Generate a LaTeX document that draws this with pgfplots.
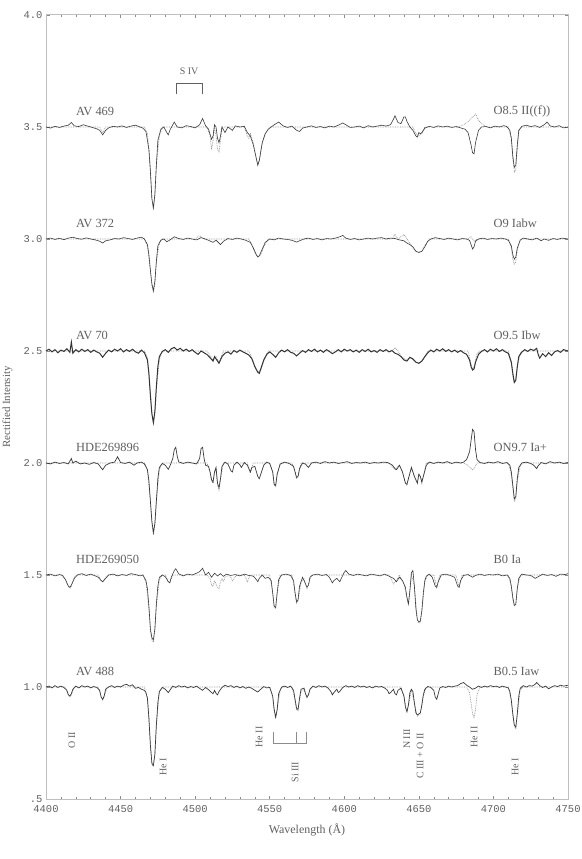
\documentclass[border=0pt]{standalone}
\usepackage{fontspec}
\setmainfont{Liberation Serif}
\newfontfamily\monofont{Liberation Mono}
\usepackage{pgfplots}
\usepackage{pgfplotstable}
\pgfplotsset{compat=1.18}
\definecolor{txt}{HTML}{606060}
\definecolor{obs}{HTML}{3A3A3A}
\definecolor{mod}{HTML}{8A8A8A}

% spectra, normalised; each one shifted by its offset when plotted
% AV 469 (O8.5 II((f)))
\pgfplotstableread[row sep=\\]{w f\\
4400 1.000\\ 4403 0.995\\ 4406 1.003\\ 4409 0.998\\ 4412 1.004\\ 4415 1.008\\ 4417 1.020\\ 4419 1.005\\ 4422 1.002\\ 4425 1.010\\
4428 1.004\\ 4431 0.998\\ 4434 0.992\\ 4436 0.985\\ 4438 0.965\\ 4440 0.985\\ 4442 0.996\\ 4445 1.003\\ 4448 1.000\\ 4451 1.005\\
4454 0.998\\ 4457 1.004\\ 4460 1.008\\ 4463 1.000\\ 4465 0.995\\ 4467 0.980\\ 4469 0.900\\ 4470 0.800\\ 4471 0.680\\ 4472 0.640\\
4473 0.700\\ 4474 0.830\\ 4475 0.940\\ 4477 0.990\\ 4479 1.000\\ 4481 0.975\\ 4482 0.965\\ 4483 0.985\\ 4485 1.010\\ 4486 1.022\\
4488 1.000\\ 4491 0.996\\ 4494 1.006\\ 4497 1.002\\ 4500 0.996\\ 4503 1.010\\ 4505 1.038\\ 4507 1.005\\ 4509 0.990\\ 4511 0.945\\
4512 0.960\\ 4513 1.010\\ 4514 1.000\\ 4515 0.950\\ 4516 0.930\\ 4517 0.960\\ 4518 1.000\\ 4520 0.975\\ 4522 1.000\\ 4525 0.985\\
4527 1.005\\ 4530 1.000\\ 4533 1.003\\ 4535 0.975\\ 4537 0.960\\ 4539 0.920\\ 4541 0.860\\ 4542 0.830\\ 4543 0.850\\ 4545 0.930\\
4547 0.970\\ 4549 0.990\\ 4551 1.000\\ 4553 1.010\\ 4556 1.022\\ 4559 1.005\\ 4562 0.998\\ 4565 1.004\\ 4568 0.985\\ 4570 0.980\\
4572 0.995\\ 4575 1.000\\ 4578 1.005\\ 4581 0.998\\ 4584 1.002\\ 4587 0.996\\ 4590 1.004\\ 4593 1.000\\ 4596 1.008\\ 4599 1.018\\
4601 1.010\\ 4604 0.998\\ 4607 1.000\\ 4610 1.004\\ 4613 0.996\\ 4616 1.006\\ 4619 1.000\\ 4622 1.004\\ 4625 1.008\\ 4628 1.004\\
4631 1.010\\ 4633 1.035\\ 4634 1.050\\ 4636 1.020\\ 4638 1.015\\ 4640 1.045\\ 4641 1.045\\ 4642 1.025\\ 4644 1.000\\ 4646 0.985\\
4648 0.960\\ 4649 0.955\\ 4650 0.975\\ 4651 0.970\\ 4652 0.975\\ 4654 0.995\\ 4657 1.003\\ 4660 0.998\\ 4663 1.005\\ 4666 1.000\\
4669 1.004\\ 4672 0.998\\ 4675 1.002\\ 4678 0.996\\ 4681 0.990\\ 4683 0.975\\ 4685 0.920\\ 4686 0.885\\ 4687 0.880\\ 4688 0.930\\
4690 0.985\\ 4692 1.000\\ 4695 1.002\\ 4698 0.996\\ 4701 1.004\\ 4704 1.000\\ 4707 1.006\\ 4709 1.002\\ 4711 0.985\\ 4712 0.950\\
4713 0.870\\ 4714 0.820\\ 4715 0.830\\ 4716 0.920\\ 4717 0.985\\ 4719 1.003\\ 4722 1.008\\ 4725 1.002\\ 4728 1.006\\ 4731 0.998\\
4734 1.010\\ 4736 1.022\\ 4738 1.005\\ 4741 1.000\\ 4744 1.006\\ 4747 0.996\\ 4750 1.000\\
}\avAobs
\pgfplotstableread[row sep=\\]{w f\\
4400 1.0\\ 4436 1.0\\ 4438 0.975\\ 4440 1.0\\ 4466 1.0\\ 4468 0.97\\ 4470 0.82\\ 4471 0.68\\ 4472 0.63\\ 4473 0.69\\
4474 0.83\\ 4476 0.96\\ 4478 1.0\\ 4508 1.0\\ 4510 0.96\\ 4511 0.90\\ 4512 0.94\\ 4513 1.0\\ 4514 0.96\\ 4515 0.90\\
4516 0.89\\ 4517 0.94\\ 4518 1.0\\ 4533 1.0\\ 4535 0.96\\ 4536 0.95\\ 4537 0.97\\ 4539 0.93\\ 4541 0.86\\ 4542 0.83\\
4543 0.85\\ 4545 0.93\\ 4547 0.97\\ 4550 1.0\\ 4646 1.0\\ 4648 0.97\\ 4650 0.96\\ 4652 0.97\\ 4654 1.0\\ 4676 1.0\\
4680 1.01\\ 4684 1.03\\ 4688 1.058\\ 4690 1.03\\ 4693 1.01\\ 4696 1.0\\ 4710 1.0\\ 4712 0.95\\ 4713 0.86\\ 4714 0.80\\
4715 0.81\\ 4716 0.90\\ 4717 0.98\\ 4719 1.0\\ 4750 1.0\\
}\avAmod

% AV 372 (O9 Iabw)
\pgfplotstableread[row sep=\\]{w f\\
4400 1.000\\ 4403 1.004\\ 4406 0.998\\ 4409 1.003\\ 4412 0.997\\ 4415 1.004\\ 4418 1.008\\ 4421 1.002\\ 4424 0.999\\ 4427 1.005\\
4430 1.000\\ 4433 0.996\\ 4436 0.990\\ 4438 0.982\\ 4440 0.992\\ 4443 0.996\\ 4446 1.002\\ 4449 1.000\\ 4452 1.006\\ 4455 1.002\\
4458 0.998\\ 4461 1.004\\ 4464 1.008\\ 4466 1.000\\ 4468 0.975\\ 4469 0.930\\ 4470 0.860\\ 4471 0.800\\ 4472 0.770\\ 4473 0.810\\
4474 0.900\\ 4475 0.970\\ 4477 0.995\\ 4479 1.000\\ 4481 0.988\\ 4483 0.995\\ 4486 1.010\\ 4489 1.002\\ 4492 0.998\\ 4495 1.004\\
4498 1.000\\ 4501 0.996\\ 4504 1.006\\ 4506 1.002\\ 4509 0.994\\ 4512 0.985\\ 4514 0.995\\ 4517 0.975\\ 4519 0.990\\ 4522 1.002\\
4525 0.998\\ 4528 1.004\\ 4531 1.000\\ 4534 0.994\\ 4537 0.985\\ 4539 0.960\\ 4541 0.930\\ 4542 0.920\\ 4543 0.925\\ 4545 0.955\\
4547 0.985\\ 4550 1.000\\ 4553 0.996\\ 4556 1.004\\ 4559 1.000\\ 4562 0.998\\ 4565 0.994\\ 4568 0.986\\ 4570 0.992\\ 4573 1.000\\
4576 1.004\\ 4579 0.998\\ 4582 1.002\\ 4585 0.996\\ 4588 1.002\\ 4591 1.000\\ 4594 1.004\\ 4597 1.010\\ 4599 1.016\\ 4601 1.004\\
4604 0.998\\ 4607 1.002\\ 4610 0.996\\ 4613 1.000\\ 4616 1.004\\ 4619 1.000\\ 4622 1.004\\ 4625 1.006\\ 4628 1.000\\ 4631 1.004\\
4634 1.002\\ 4637 0.996\\ 4640 0.992\\ 4642 0.982\\ 4644 0.975\\ 4646 0.965\\ 4648 0.945\\ 4650 0.940\\ 4652 0.945\\ 4654 0.965\\
4656 0.990\\ 4658 1.000\\ 4661 1.006\\ 4664 1.002\\ 4667 0.998\\ 4670 1.004\\ 4673 1.000\\ 4676 0.996\\ 4679 1.002\\ 4682 1.000\\
4684 0.994\\ 4685 0.975\\ 4686 0.955\\ 4687 0.965\\ 4688 0.990\\ 4690 1.000\\ 4693 1.004\\ 4696 0.998\\ 4699 1.002\\ 4702 1.000\\
4705 1.004\\ 4708 1.000\\ 4710 0.994\\ 4712 0.970\\ 4713 0.930\\ 4714 0.910\\ 4715 0.920\\ 4716 0.960\\ 4718 0.995\\ 4720 1.004\\
4723 1.000\\ 4726 0.996\\ 4729 1.004\\ 4732 0.992\\ 4734 1.000\\ 4737 0.994\\ 4740 1.002\\ 4743 0.998\\ 4746 1.004\\ 4750 1.000\\
}\avBobs
\pgfplotstableread[row sep=\\]{w f\\
4400 1.0\\ 4466 1.0\\ 4468 0.97\\ 4470 0.86\\ 4471 0.79\\ 4472 0.76\\ 4473 0.80\\ 4474 0.90\\ 4476 0.98\\ 4478 1.0\\
4500 1.0\\ 4503 1.015\\ 4506 1.0\\ 4536 1.0\\ 4538 0.975\\ 4540 0.94\\ 4542 0.92\\ 4544 0.93\\ 4546 0.965\\ 4549 1.0\\
4632 1.0\\ 4634 1.02\\ 4636 1.0\\ 4640 1.02\\ 4642 1.0\\ 4644 0.98\\ 4646 0.96\\ 4648 0.945\\ 4650 0.94\\ 4652 0.945\\
4654 0.97\\ 4657 1.0\\ 4683 1.0\\ 4685 1.01\\ 4687 0.99\\ 4689 1.0\\ 4710 1.0\\ 4712 0.96\\ 4713 0.91\\ 4714 0.885\\
4715 0.90\\ 4716 0.95\\ 4718 1.0\\ 4750 1.0\\
}\avBmod

% AV 70 (O9.5 Ibw)
\pgfplotstableread[row sep=\\]{w f\\
4400 1.000\\ 4402 1.008\\ 4404 0.996\\ 4406 1.006\\ 4408 0.992\\ 4410 1.004\\ 4412 0.998\\ 4414 1.010\\ 4416 0.994\\ 4417 1.040\\
4418 0.990\\ 4420 1.006\\ 4422 0.996\\ 4424 1.008\\ 4426 0.998\\ 4428 1.006\\ 4430 0.994\\ 4432 1.004\\ 4434 0.996\\ 4436 0.990\\
4438 0.972\\ 4440 0.990\\ 4442 1.004\\ 4444 0.996\\ 4446 1.008\\ 4448 1.000\\ 4450 1.010\\ 4452 0.996\\ 4454 1.006\\ 4456 0.998\\
4458 1.008\\ 4460 0.996\\ 4462 0.990\\ 4464 1.004\\ 4466 0.992\\ 4468 0.960\\ 4469 0.900\\ 4470 0.800\\ 4471 0.720\\ 4472 0.680\\
4473 0.730\\ 4474 0.840\\ 4475 0.930\\ 4476 0.975\\ 4478 0.998\\ 4480 1.006\\ 4482 0.994\\ 4484 1.010\\ 4486 1.016\\ 4488 1.004\\
4490 1.012\\ 4492 1.000\\ 4494 1.008\\ 4496 0.998\\ 4498 1.006\\ 4500 0.994\\ 4502 0.985\\ 4504 1.000\\ 4506 0.992\\ 4508 0.984\\
4510 0.970\\ 4512 0.955\\ 4513 0.975\\ 4514 0.965\\ 4516 0.945\\ 4518 0.975\\ 4520 0.990\\ 4522 0.996\\ 4524 0.986\\ 4526 1.002\\
4528 0.994\\ 4530 1.004\\ 4532 0.996\\ 4534 0.990\\ 4536 0.982\\ 4538 0.966\\ 4540 0.930\\ 4542 0.905\\ 4543 0.900\\ 4544 0.920\\
4546 0.960\\ 4548 0.985\\ 4550 0.996\\ 4552 0.985\\ 4554 0.972\\ 4556 0.992\\ 4558 1.004\\ 4560 0.996\\ 4562 1.006\\ 4564 0.994\\
4566 0.990\\ 4568 0.978\\ 4570 0.990\\ 4572 1.002\\ 4574 0.994\\ 4576 1.006\\ 4578 0.998\\ 4580 1.008\\ 4582 0.996\\ 4584 1.004\\
4586 0.994\\ 4588 1.006\\ 4590 0.998\\ 4592 0.988\\ 4594 0.996\\ 4596 1.006\\ 4598 0.996\\ 4600 1.008\\ 4602 1.000\\ 4604 1.006\\
4606 0.996\\ 4608 1.004\\ 4610 0.994\\ 4612 1.006\\ 4614 0.998\\ 4616 1.008\\ 4618 0.996\\ 4620 1.002\\ 4622 0.994\\ 4624 1.006\\
4626 0.998\\ 4628 1.006\\ 4630 0.996\\ 4632 1.002\\ 4634 0.990\\ 4636 0.985\\ 4638 0.975\\ 4640 0.960\\ 4642 0.955\\ 4644 0.972\\
4646 0.965\\ 4648 0.950\\ 4650 0.945\\ 4652 0.955\\ 4654 0.975\\ 4656 0.992\\ 4658 1.004\\ 4660 0.996\\ 4662 1.008\\ 4664 1.000\\
4666 1.010\\ 4668 0.998\\ 4670 1.006\\ 4672 0.996\\ 4674 1.004\\ 4676 0.994\\ 4678 1.002\\ 4680 0.992\\ 4682 0.985\\ 4684 0.960\\
4685 0.930\\ 4686 0.915\\ 4687 0.920\\ 4688 0.950\\ 4690 0.985\\ 4692 0.998\\ 4694 1.006\\ 4696 0.996\\ 4698 1.008\\ 4700 1.000\\
4702 1.010\\ 4704 0.998\\ 4706 1.006\\ 4708 0.996\\ 4710 0.990\\ 4712 0.950\\ 4713 0.900\\ 4714 0.860\\ 4715 0.870\\ 4716 0.930\\
4717 0.975\\ 4719 0.995\\ 4721 1.006\\ 4723 0.998\\ 4725 1.008\\ 4727 1.002\\ 4729 1.012\\ 4730 0.985\\ 4731 0.968\\ 4733 0.988\\
4735 0.975\\ 4737 0.992\\ 4739 0.980\\ 4741 0.996\\ 4743 1.002\\ 4745 0.994\\ 4747 1.006\\ 4750 1.000\\
}\avCobs
\pgfplotstableread[row sep=\\]{w f\\
4400 1.0\\ 4466 1.0\\ 4468 0.97\\ 4470 0.82\\ 4471 0.72\\ 4472 0.68\\ 4473 0.72\\ 4474 0.83\\ 4476 0.96\\ 4478 1.0\\
4508 1.0\\ 4512 0.96\\ 4514 0.975\\ 4516 0.95\\ 4519 1.0\\ 4536 1.0\\ 4538 0.97\\ 4540 0.935\\ 4542 0.905\\ 4544 0.915\\
4546 0.955\\ 4549 1.0\\ 4632 1.0\\ 4634 1.015\\ 4636 1.0\\ 4638 0.98\\ 4641 0.96\\ 4644 0.97\\ 4647 0.955\\ 4650 0.945\\
4653 0.96\\ 4656 1.0\\ 4683 1.0\\ 4685 0.94\\ 4686 0.92\\ 4687 0.93\\ 4689 0.99\\ 4691 1.0\\ 4710 1.0\\ 4712 0.95\\
4713 0.89\\ 4714 0.855\\ 4715 0.87\\ 4716 0.93\\ 4718 0.99\\ 4720 1.0\\ 4750 1.0\\
}\avCmod

% HDE269896 (ON9.7 Ia+)
\pgfplotstableread[row sep=\\]{w f\\
4400 1.000\\ 4403 0.996\\ 4406 1.004\\ 4409 0.998\\ 4412 1.002\\ 4415 0.996\\ 4417 1.020\\ 4418 1.000\\ 4420 1.008\\ 4423 0.996\\
4426 1.000\\ 4429 0.994\\ 4432 1.002\\ 4435 0.996\\ 4437 0.978\\ 4438 0.970\\ 4440 0.990\\ 4443 1.000\\ 4446 1.004\\ 4448 1.028\\
4450 1.002\\ 4453 0.998\\ 4456 1.004\\ 4459 0.990\\ 4461 1.000\\ 4464 1.004\\ 4466 0.996\\ 4468 0.970\\ 4469 0.920\\ 4470 0.830\\
4471 0.740\\ 4472 0.690\\ 4473 0.730\\ 4474 0.830\\ 4475 0.930\\ 4476 0.980\\ 4478 0.998\\ 4480 0.990\\ 4482 0.972\\ 4483 0.985\\
4485 1.020\\ 4486 1.060\\ 4487 1.070\\ 4488 1.030\\ 4489 1.005\\ 4492 0.998\\ 4495 1.004\\ 4498 1.000\\ 4501 0.996\\ 4503 1.020\\
4504 1.065\\ 4505 1.070\\ 4506 1.020\\ 4507 0.990\\ 4509 0.985\\ 4510 0.960\\ 4511 0.925\\ 4512 0.915\\ 4513 0.960\\ 4514 0.980\\
4515 0.910\\ 4516 0.890\\ 4517 0.930\\ 4518 0.985\\ 4520 1.004\\ 4522 0.995\\ 4524 0.965\\ 4525 0.960\\ 4526 0.990\\ 4528 1.004\\
4530 0.992\\ 4531 0.980\\ 4533 1.002\\ 4535 0.990\\ 4537 0.960\\ 4538 0.980\\ 4540 0.985\\ 4542 0.940\\ 4543 0.930\\ 4544 0.950\\
4546 0.990\\ 4548 1.004\\ 4550 0.998\\ 4552 0.960\\ 4553 0.905\\ 4554 0.900\\ 4555 0.950\\ 4557 0.995\\ 4560 1.004\\ 4563 0.998\\
4566 0.985\\ 4567 0.960\\ 4568 0.935\\ 4569 0.940\\ 4570 0.975\\ 4572 1.000\\ 4574 0.995\\ 4576 0.980\\ 4578 1.000\\ 4581 1.004\\
4584 0.998\\ 4587 1.006\\ 4590 1.000\\ 4593 1.004\\ 4596 0.998\\ 4599 1.002\\ 4602 1.006\\ 4605 0.998\\ 4608 1.002\\ 4611 1.000\\
4614 1.004\\ 4617 0.998\\ 4620 1.002\\ 4623 1.000\\ 4626 1.004\\ 4629 1.002\\ 4632 0.992\\ 4634 0.975\\ 4635 0.970\\ 4637 0.990\\
4639 0.960\\ 4641 0.910\\ 4642 0.905\\ 4643 0.930\\ 4645 0.980\\ 4647 0.940\\ 4649 0.910\\ 4650 0.950\\ 4651 0.940\\ 4652 0.915\\
4653 0.940\\ 4655 0.990\\ 4657 1.004\\ 4660 0.998\\ 4663 1.004\\ 4666 1.000\\ 4669 1.006\\ 4672 0.998\\ 4675 1.004\\ 4678 1.000\\
4680 1.004\\ 4682 1.015\\ 4684 1.050\\ 4685 1.100\\ 4686 1.150\\ 4687 1.140\\ 4688 1.060\\ 4689 1.015\\ 4691 1.002\\ 4694 0.998\\
4697 1.004\\ 4700 1.000\\ 4703 1.006\\ 4706 0.998\\ 4709 1.002\\ 4711 0.990\\ 4712 0.960\\ 4713 0.900\\ 4714 0.840\\ 4715 0.850\\
4716 0.930\\ 4717 0.980\\ 4719 1.000\\ 4722 1.004\\ 4725 0.998\\ 4727 0.990\\ 4729 0.975\\ 4730 0.988\\ 4732 1.002\\ 4735 0.996\\
4738 1.006\\ 4741 1.000\\ 4744 1.004\\ 4747 0.998\\ 4750 1.002\\
}\avDobs
\pgfplotstableread[row sep=\\]{w f\\
4400 1.0\\ 4466 1.0\\ 4468 0.97\\ 4470 0.83\\ 4471 0.73\\ 4472 0.68\\ 4473 0.72\\ 4474 0.83\\ 4476 0.97\\ 4478 1.0\\
4508 1.0\\ 4510 0.96\\ 4511 0.92\\ 4512 0.91\\ 4513 0.96\\ 4514 0.97\\ 4515 0.90\\ 4516 0.88\\ 4517 0.93\\ 4519 1.0\\
4535 1.0\\ 4537 0.955\\ 4539 1.0\\ 4550 1.0\\ 4552 0.96\\ 4553 0.90\\ 4554 0.895\\ 4555 0.95\\ 4557 1.0\\ 4565 1.0\\
4567 0.96\\ 4568 0.93\\ 4569 0.94\\ 4571 1.0\\ 4630 1.0\\ 4634 0.97\\ 4637 0.99\\ 4639 0.96\\ 4641 0.91\\ 4642 0.90\\
4643 0.93\\ 4645 0.98\\ 4647 0.94\\ 4649 0.91\\ 4650 0.95\\ 4651 0.94\\ 4652 0.91\\ 4653 0.94\\ 4655 1.0\\ 4680 1.0\\
4683 0.99\\ 4685 0.975\\ 4686 0.97\\ 4687 0.975\\ 4689 1.0\\ 4710 1.0\\ 4712 0.95\\ 4713 0.89\\ 4714 0.83\\ 4715 0.84\\
4716 0.92\\ 4718 0.99\\ 4720 1.0\\ 4750 1.0\\
}\avDmod

% HDE269050 (B0 Ia)
\pgfplotstableread[row sep=\\]{w f\\
4400 1.000\\ 4403 1.004\\ 4406 0.996\\ 4409 1.002\\ 4411 0.998\\ 4413 0.980\\ 4415 0.950\\ 4416 0.945\\ 4417 0.955\\ 4419 0.985\\
4421 1.000\\ 4424 1.006\\ 4427 0.998\\ 4430 1.004\\ 4433 0.996\\ 4435 0.990\\ 4437 0.975\\ 4438 0.970\\ 4440 0.985\\ 4442 1.000\\
4445 1.004\\ 4448 0.996\\ 4451 1.002\\ 4454 0.998\\ 4457 1.006\\ 4460 1.002\\ 4463 0.996\\ 4465 1.000\\ 4467 0.975\\ 4468 0.940\\
4469 0.860\\ 4470 0.760\\ 4471 0.720\\ 4472 0.710\\ 4473 0.760\\ 4474 0.870\\ 4475 0.950\\ 4476 0.990\\ 4478 1.000\\ 4480 0.992\\
4482 0.970\\ 4483 0.965\\ 4484 0.990\\ 4486 1.020\\ 4487 1.028\\ 4489 1.005\\ 4492 0.996\\ 4495 1.004\\ 4498 1.000\\ 4501 1.008\\
4503 1.015\\ 4505 1.030\\ 4507 1.000\\ 4509 1.012\\ 4511 0.990\\ 4513 1.008\\ 4515 0.996\\ 4517 1.006\\ 4519 0.994\\ 4521 1.004\\
4524 0.998\\ 4527 1.002\\ 4530 0.996\\ 4533 1.004\\ 4536 0.998\\ 4539 0.995\\ 4541 0.980\\ 4542 0.970\\ 4543 0.985\\ 4545 1.000\\
4547 0.985\\ 4549 0.990\\ 4551 0.975\\ 4552 0.920\\ 4553 0.860\\ 4554 0.855\\ 4555 0.920\\ 4556 0.980\\ 4558 1.000\\ 4561 1.004\\
4564 0.998\\ 4566 0.975\\ 4567 0.920\\ 4568 0.880\\ 4569 0.890\\ 4570 0.950\\ 4572 0.990\\ 4574 0.960\\ 4575 0.945\\ 4576 0.955\\
4577 0.990\\ 4579 1.000\\ 4582 1.004\\ 4585 0.998\\ 4588 1.002\\ 4590 0.990\\ 4592 0.965\\ 4593 0.975\\ 4595 0.985\\ 4597 0.970\\
4598 0.985\\ 4600 1.012\\ 4601 1.020\\ 4603 1.004\\ 4606 0.998\\ 4609 1.004\\ 4612 1.000\\ 4615 0.996\\ 4618 1.004\\ 4621 1.000\\
4624 0.996\\ 4627 1.004\\ 4630 0.995\\ 4633 0.985\\ 4635 0.970\\ 4637 0.990\\ 4639 0.975\\ 4641 0.945\\ 4642 0.900\\ 4643 0.870\\
4644 0.930\\ 4645 1.010\\ 4646 1.020\\ 4647 0.950\\ 4648 0.850\\ 4649 0.800\\ 4650 0.790\\ 4651 0.795\\ 4652 0.840\\ 4653 0.920\\
4654 0.975\\ 4655 0.995\\ 4657 1.004\\ 4659 0.990\\ 4661 0.950\\ 4662 0.945\\ 4663 0.970\\ 4665 1.000\\ 4668 1.004\\ 4671 0.998\\
4674 0.990\\ 4676 0.950\\ 4677 0.945\\ 4678 0.975\\ 4680 0.998\\ 4683 1.002\\ 4686 0.990\\ 4688 0.998\\ 4691 1.004\\ 4694 0.998\\
4697 1.002\\ 4700 1.000\\ 4703 1.004\\ 4706 0.996\\ 4709 1.000\\ 4711 0.985\\ 4712 0.950\\ 4713 0.900\\ 4714 0.865\\ 4715 0.870\\
4716 0.940\\ 4717 0.985\\ 4719 1.004\\ 4722 1.000\\ 4725 0.998\\ 4728 0.985\\ 4730 0.992\\ 4733 1.004\\ 4736 0.998\\ 4739 1.002\\
4742 0.994\\ 4745 1.004\\ 4748 1.002\\ 4750 1.006\\
}\avEobs
\pgfplotstableread[row sep=\\]{w f\\
4400 1.0\\ 4411 1.0\\ 4413 0.98\\ 4415 0.95\\ 4416 0.94\\ 4417 0.95\\ 4419 0.99\\ 4421 1.0\\ 4435 1.0\\ 4437 0.975\\
4438 0.968\\ 4440 0.99\\ 4442 1.0\\ 4465 1.0\\ 4467 0.97\\ 4469 0.85\\ 4470 0.75\\ 4471 0.71\\ 4472 0.70\\ 4473 0.75\\
4474 0.86\\ 4476 0.98\\ 4478 1.0\\ 4480 1.0\\ 4482 0.97\\ 4483 0.965\\ 4485 1.0\\ 4508 1.0\\ 4510 0.985\\ 4511 0.955\\
4512 0.95\\ 4513 0.975\\ 4514 0.96\\ 4515 0.945\\ 4516 0.94\\ 4517 0.97\\ 4518 0.985\\ 4519 0.97\\ 4520 0.99\\ 4523 1.0\\
4525 0.975\\ 4526 0.985\\ 4528 1.0\\ 4533 1.0\\ 4535 0.97\\ 4537 1.0\\ 4550 1.0\\ 4552 0.92\\ 4553 0.855\\ 4554 0.85\\
4555 0.92\\ 4557 1.0\\ 4565 1.0\\ 4567 0.92\\ 4568 0.875\\ 4569 0.885\\ 4571 0.97\\ 4573 0.985\\ 4575 0.94\\ 4576 0.96\\
4578 1.0\\ 4630 1.0\\ 4633 0.96\\ 4635 0.975\\ 4637 1.0\\ 4640 0.96\\ 4642 0.90\\ 4643 0.87\\ 4644 0.93\\ 4645 1.0\\
4647 0.95\\ 4649 0.80\\ 4650 0.785\\ 4651 0.79\\ 4652 0.84\\ 4654 0.97\\ 4656 1.0\\ 4660 1.0\\ 4662 0.945\\ 4664 1.0\\
4675 1.0\\ 4677 0.945\\ 4679 1.0\\ 4710 1.0\\ 4712 0.95\\ 4713 0.89\\ 4714 0.86\\ 4715 0.865\\ 4716 0.94\\ 4718 1.0\\
4750 1.0\\
}\avEmod

% AV 488 (B0.5 Iaw)
\pgfplotstableread[row sep=\\]{w f\\
4400 1.000\\ 4402 1.004\\ 4404 0.996\\ 4406 1.006\\ 4408 0.998\\ 4410 1.004\\ 4412 0.998\\ 4414 0.985\\ 4415 0.965\\ 4416 0.960\\
4417 0.970\\ 4418 0.990\\ 4420 1.004\\ 4422 0.996\\ 4424 1.006\\ 4426 1.000\\ 4428 1.004\\ 4430 0.996\\ 4432 1.002\\ 4434 0.998\\
4436 0.985\\ 4437 0.955\\ 4438 0.945\\ 4439 0.960\\ 4440 0.990\\ 4442 1.000\\ 4444 1.006\\ 4446 0.998\\ 4448 1.004\\ 4450 1.000\\
4452 1.008\\ 4454 1.012\\ 4456 1.004\\ 4458 1.010\\ 4460 0.994\\ 4462 0.998\\ 4464 0.990\\ 4466 0.985\\ 4467 0.975\\ 4468 0.950\\
4469 0.860\\ 4470 0.740\\ 4471 0.660\\ 4472 0.650\\ 4473 0.700\\ 4474 0.830\\ 4475 0.930\\ 4476 0.980\\ 4478 0.998\\ 4480 0.990\\
4482 0.975\\ 4483 0.985\\ 4485 1.004\\ 4487 0.998\\ 4489 1.006\\ 4491 1.000\\ 4493 1.004\\ 4495 0.996\\ 4497 1.002\\ 4499 0.998\\
4501 1.004\\ 4503 0.994\\ 4505 0.985\\ 4507 0.998\\ 4509 0.988\\ 4511 0.975\\ 4512 0.970\\ 4513 0.985\\ 4514 0.972\\ 4515 0.965\\
4516 0.980\\ 4518 0.998\\ 4520 1.008\\ 4522 1.002\\ 4524 1.006\\ 4526 0.998\\ 4528 1.004\\ 4530 0.996\\ 4532 1.002\\ 4534 0.994\\
4536 1.000\\ 4538 0.994\\ 4540 0.985\\ 4542 0.978\\ 4544 0.990\\ 4546 1.002\\ 4548 0.996\\ 4550 0.998\\ 4552 0.960\\ 4553 0.900\\
4554 0.865\\ 4555 0.900\\ 4556 0.970\\ 4558 1.000\\ 4560 1.004\\ 4562 0.998\\ 4564 1.004\\ 4566 0.985\\ 4567 0.945\\ 4568 0.905\\
4569 0.900\\ 4570 0.950\\ 4571 0.990\\ 4573 0.995\\ 4574 0.970\\ 4575 0.955\\ 4576 0.965\\ 4577 0.990\\ 4579 1.004\\ 4581 0.998\\
4583 1.006\\ 4585 1.000\\ 4587 1.004\\ 4589 0.996\\ 4591 0.980\\ 4592 0.965\\ 4593 0.975\\ 4595 0.990\\ 4596 0.975\\ 4597 0.980\\
4599 0.998\\ 4601 1.006\\ 4603 1.000\\ 4605 1.004\\ 4607 0.998\\ 4609 1.006\\ 4611 1.000\\ 4613 1.004\\ 4615 0.998\\ 4617 1.002\\
4619 0.996\\ 4621 1.004\\ 4623 1.000\\ 4625 1.002\\ 4627 0.996\\ 4629 0.985\\ 4630 0.970\\ 4631 0.975\\ 4633 0.990\\ 4634 0.970\\
4635 0.965\\ 4636 0.985\\ 4638 0.995\\ 4640 0.960\\ 4641 0.910\\ 4642 0.890\\ 4643 0.920\\ 4644 0.975\\ 4645 0.990\\ 4646 0.980\\
4647 0.930\\ 4648 0.885\\ 4649 0.875\\ 4650 0.880\\ 4651 0.885\\ 4652 0.920\\ 4653 0.965\\ 4654 0.990\\ 4656 1.002\\ 4658 0.998\\
4660 0.985\\ 4661 0.955\\ 4662 0.945\\ 4663 0.970\\ 4664 0.995\\ 4666 1.002\\ 4668 0.998\\ 4670 1.004\\ 4672 1.000\\ 4674 1.004\\
4676 1.006\\ 4678 1.015\\ 4680 1.020\\ 4682 1.008\\ 4684 1.000\\ 4686 0.990\\ 4688 0.995\\ 4690 1.004\\ 4692 0.998\\ 4694 1.004\\
4696 1.000\\ 4698 1.006\\ 4700 1.002\\ 4702 1.004\\ 4704 0.998\\ 4706 1.004\\ 4708 1.000\\ 4710 0.996\\ 4711 0.980\\ 4712 0.940\\
4713 0.880\\ 4714 0.830\\ 4715 0.820\\ 4716 0.880\\ 4717 0.960\\ 4718 0.995\\ 4720 1.006\\ 4722 1.000\\ 4724 1.006\\ 4726 1.004\\
4728 1.012\\ 4729 1.020\\ 4731 1.006\\ 4733 0.998\\ 4735 1.004\\ 4737 0.992\\ 4739 1.000\\ 4741 1.006\\ 4743 1.002\\ 4745 1.008\\
4747 1.004\\ 4750 1.008\\
}\avFobs
\pgfplotstableread[row sep=\\]{w f\\
4400 1.0\\ 4413 1.0\\ 4415 0.965\\ 4416 0.955\\ 4417 0.965\\ 4419 1.0\\ 4435 1.0\\ 4437 0.955\\ 4438 0.94\\ 4439 0.955\\
4441 1.0\\ 4466 1.0\\ 4468 0.95\\ 4469 0.86\\ 4470 0.74\\ 4471 0.655\\ 4472 0.645\\ 4473 0.70\\ 4474 0.83\\ 4476 0.975\\
4478 1.0\\ 4550 1.0\\ 4552 0.955\\ 4553 0.89\\ 4554 0.86\\ 4555 0.895\\ 4557 0.99\\ 4559 1.0\\ 4565 1.0\\ 4567 0.94\\
4568 0.90\\ 4569 0.895\\ 4571 0.98\\ 4573 0.99\\ 4575 0.95\\ 4577 0.99\\ 4579 1.0\\ 4638 1.0\\ 4640 0.955\\ 4642 0.885\\
4643 0.915\\ 4645 0.99\\ 4647 0.925\\ 4649 0.87\\ 4650 0.875\\ 4651 0.88\\ 4653 0.96\\ 4655 1.0\\ 4682 1.0\\ 4684 0.975\\
4685 0.93\\ 4686 0.88\\ 4687 0.865\\ 4688 0.90\\ 4689 0.965\\ 4691 1.0\\ 4710 1.0\\ 4712 0.94\\ 4713 0.875\\ 4714 0.825\\
4715 0.815\\ 4716 0.875\\ 4718 0.99\\ 4720 1.0\\ 4750 1.0\\
}\avFmod

\begin{document}
\begin{tikzpicture}
\useasboundingbox (-46bp,-60bp) rectangle (536bp,799bp);
\begin{axis}[
  at={(0,0)}, anchor=south west,
  scale only axis, width=522bp, height=784bp,
  xmin=4400, xmax=4750, ymin=0.5, ymax=4.0,
  xtick={4400,4450,...,4750}, minor x tick num=4,
  ytick={0.5,1.0,...,4.0},
  yticklabels={.5,1.0,1.5,2.0,2.5,3.0,3.5,4.0},
  tick align=inside, major tick length=3.5bp, minor tick length=2.5bp,
  axis line style={draw=black!25, line width=1pt},
  tick style={draw=black!45, line width=0.5pt},
  /pgf/number format/assume math mode=true,
  /pgf/number format/1000 sep={},
  ticklabel style={font=\monofont\fontsize{10.5}{12}\selectfont, text=txt},
  x tick label style={yshift=-3bp},
  xlabel={Wavelength (Å)},
  ylabel={Rectified Intensity},
  xlabel style={font=\fontsize{12}{14}\selectfont, text=txt, at={(axis description cs:0.5,-0.0395)}, anchor=center},
  ylabel style={font=\fontsize{11}{13}\selectfont, text=txt, at={(axis description cs:-0.074,0.5)}, anchor=center},
  clip=false,
]
  % models (dotted) under the observed spectra
  \addplot[mod, densely dotted, line width=0.7pt] table[x=w, y expr=\thisrow{f}+2.5] {\avAmod};
  \addplot[mod, densely dotted, line width=0.7pt] table[x=w, y expr=\thisrow{f}+2.0] {\avBmod};
  \addplot[mod, densely dotted, line width=0.7pt] table[x=w, y expr=\thisrow{f}+1.5] {\avCmod};
  \addplot[mod, densely dotted, line width=0.7pt] table[x=w, y expr=\thisrow{f}+1.0] {\avDmod};
  \addplot[mod, densely dotted, line width=0.7pt] table[x=w, y expr=\thisrow{f}+0.5] {\avEmod};
  \addplot[mod, densely dotted, line width=0.7pt] table[x=w, y expr=\thisrow{f}+0.0] {\avFmod};

  \addplot[obs, line width=0.6pt] table[x=w, y expr=\thisrow{f}+2.5] {\avAobs};
  \addplot[obs, line width=0.6pt] table[x=w, y expr=\thisrow{f}+2.0] {\avBobs};
  \addplot[obs!90!black, line width=1.0pt] table[x=w, y expr=\thisrow{f}+1.5] {\avCobs};
  \addplot[obs, line width=0.7pt] table[x=w, y expr=\thisrow{f}+1.0] {\avDobs};
  \addplot[obs, line width=0.6pt] table[x=w, y expr=\thisrow{f}+0.5] {\avEobs};
  \addplot[obs, line width=0.7pt] table[x=w, y expr=\thisrow{f}+0.0] {\avFobs};

  % star names and spectral types
  \begin{scope}[every node/.style={font=\fontsize{12.5}{14}\selectfont, text=txt, inner sep=0pt}]
    \node[anchor=west] at (axis cs:4420,3.571) {AV 469};
    \node[anchor=west] at (axis cs:4420,3.071) {AV 372};
    \node[anchor=west] at (axis cs:4420,2.571) {AV 70};
    \node[anchor=west] at (axis cs:4420,2.071) {HDE269896};
    \node[anchor=west] at (axis cs:4420,1.571) {HDE269050};
    \node[anchor=west] at (axis cs:4420,1.071) {AV 488};
    \node[anchor=west] at (axis cs:4700,3.571) {O8.5 II((f))};
    \node[anchor=west] at (axis cs:4700,3.071) {O9 Iabw};
    \node[anchor=west] at (axis cs:4700,2.571) {O9.5 Ibw};
    \node[anchor=west] at (axis cs:4700,2.071) {ON9.7 Ia+};
    \node[anchor=west] at (axis cs:4700,1.571) {B0 Ia};
    \node[anchor=west] at (axis cs:4700,1.071) {B0.5 Iaw};
  \end{scope}

  % line identifications
  \begin{scope}[every node/.style={font=\fontsize{10}{12}\selectfont, text=txt, rotate=90, inner sep=0pt}]
    \node at (axis cs:4417.4,0.763) {O II};
    \node at (axis cs:4478.5,0.643) {He I};
    \node at (axis cs:4543,0.777) {He II};
    \node at (axis cs:4567,0.620) {Si III};
    \node at (axis cs:4642,0.768) {N III};
    \node at (axis cs:4650.8,0.692) {C III + O II};
    \node at (axis cs:4687,0.777) {He II};
    \node at (axis cs:4714.6,0.643) {He I};
  \end{scope}
  \node[font=\fontsize{10}{12}\selectfont, text=txt] at (axis cs:4496,3.75) {S IV};
  \draw[txt, line width=0.5pt] (axis cs:4487,3.647) -- (axis cs:4487,3.696) -- (axis cs:4505,3.696) -- (axis cs:4505,3.647);
  \draw[black!45, line width=0.5pt] (axis cs:4552.6,0.799) -- (axis cs:4552.6,0.750) -- (axis cs:4574.8,0.750) -- (axis cs:4574.8,0.799);
  \draw[black!45, line width=0.5pt] (axis cs:4567.8,0.750) -- (axis cs:4567.8,0.799);
\end{axis}
\end{tikzpicture}
\end{document}
